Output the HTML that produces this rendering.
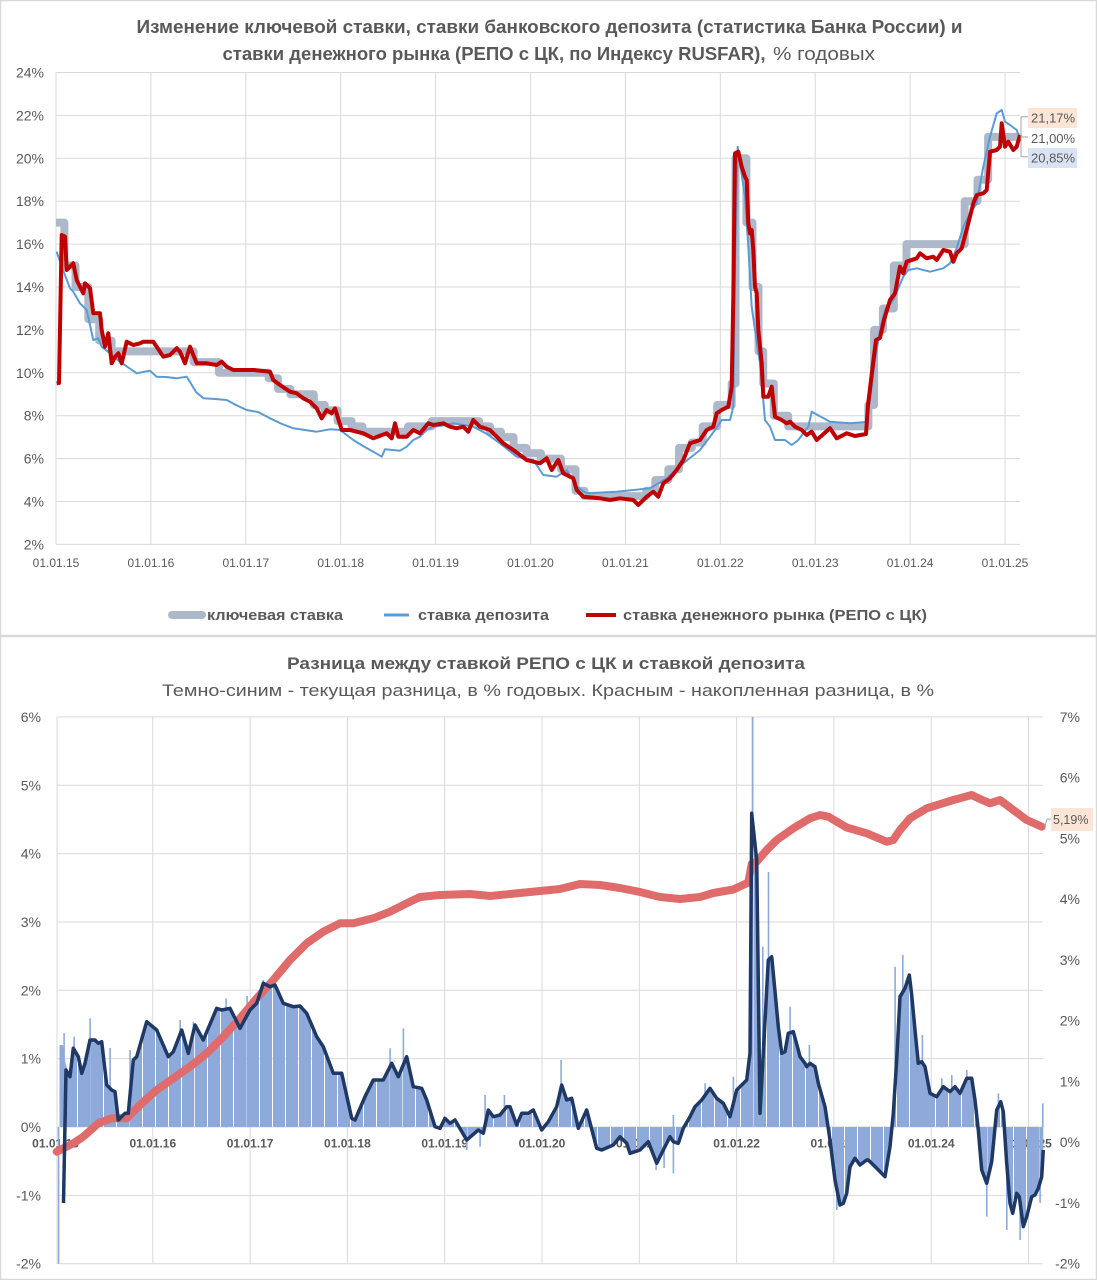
<!DOCTYPE html>
<html><head><meta charset="utf-8"><style>
html,body{margin:0;padding:0;background:#fff;}
svg{display:block;}
text{font-family:"Liberation Sans",Arial,sans-serif;fill:#595959;}
</style></head><body>
<svg width="1097" height="1280" viewBox="0 0 1097 1280" xmlns="http://www.w3.org/2000/svg">
<defs>
<pattern id="bp" patternUnits="userSpaceOnUse" width="13" height="20"><rect x="0" y="0" width="12" height="20" fill="#8eaadb"/></pattern>
</defs>
<rect x="0" y="0" width="1097" height="1280" fill="#fff"/>
<rect x="0.5" y="0.5" width="1096" height="635" fill="none" stroke="#d9d9d9" stroke-width="1.5"/>
<rect x="0.5" y="636.5" width="1096" height="643" fill="none" stroke="#d9d9d9" stroke-width="1.5"/>

<!-- ===== TOP CHART ===== -->
<text x="136.5" y="33" font-size="18" font-weight="bold" textLength="826" lengthAdjust="spacingAndGlyphs">Изменение ключевой ставки, ставки банковского депозита (статистика Банка России) и</text>
<text x="222.5" y="60" font-size="18" font-weight="bold" textLength="543" lengthAdjust="spacingAndGlyphs">ставки денежного рынка (РЕПО с ЦК, по Индексу RUSFAR),</text>
<text x="773" y="60" font-size="18" textLength="102" lengthAdjust="spacingAndGlyphs">% годовых</text>

<g stroke="#d9d9d9" stroke-width="1">
<line x1="56" y1="72.5" x2="1020" y2="72.5"/><line x1="56" y1="115.4" x2="1020" y2="115.4"/>
<line x1="56" y1="158.3" x2="1020" y2="158.3"/><line x1="56" y1="201.2" x2="1020" y2="201.2"/>
<line x1="56" y1="244.1" x2="1020" y2="244.1"/><line x1="56" y1="287" x2="1020" y2="287"/>
<line x1="56" y1="329.9" x2="1020" y2="329.9"/><line x1="56" y1="372.8" x2="1020" y2="372.8"/>
<line x1="56" y1="415.7" x2="1020" y2="415.7"/><line x1="56" y1="458.6" x2="1020" y2="458.6"/>
<line x1="56" y1="501.5" x2="1020" y2="501.5"/><line x1="56" y1="544.4" x2="1020" y2="544.4"/>
<line x1="56" y1="72.5" x2="56" y2="544.4"/><line x1="150.9" y1="72.5" x2="150.9" y2="544.4"/>
<line x1="245.8" y1="72.5" x2="245.8" y2="544.4"/><line x1="340.7" y1="72.5" x2="340.7" y2="544.4"/>
<line x1="435.6" y1="72.5" x2="435.6" y2="544.4"/><line x1="530.5" y1="72.5" x2="530.5" y2="544.4"/>
<line x1="625.4" y1="72.5" x2="625.4" y2="544.4"/><line x1="720.3" y1="72.5" x2="720.3" y2="544.4"/>
<line x1="815.2" y1="72.5" x2="815.2" y2="544.4"/><line x1="910.1" y1="72.5" x2="910.1" y2="544.4"/>
<line x1="1005" y1="72.5" x2="1005" y2="544.4"/>
</g>
<g font-size="14" text-anchor="end">
<text x="44" y="77.5">24%</text><text x="44" y="120.4">22%</text><text x="44" y="163.3">20%</text>
<text x="44" y="206.2">18%</text><text x="44" y="249.1">16%</text><text x="44" y="292">14%</text>
<text x="44" y="334.9">12%</text><text x="44" y="377.8">10%</text><text x="44" y="420.7">8%</text>
<text x="44" y="463.6">6%</text><text x="44" y="506.5">4%</text><text x="44" y="549.4">2%</text>
</g>
<g font-size="12" text-anchor="middle">
<text x="56" y="567">01.01.15</text><text x="150.9" y="567">01.01.16</text><text x="245.8" y="567">01.01.17</text>
<text x="340.7" y="567">01.01.18</text><text x="435.6" y="567">01.01.19</text><text x="530.5" y="567">01.01.20</text>
<text x="625.4" y="567">01.01.21</text><text x="720.3" y="567">01.01.22</text><text x="815.2" y="567">01.01.23</text>
<text x="910.1" y="567">01.01.24</text><text x="1005" y="567">01.01.25</text>
</g>

<path fill="none" stroke="#adb9ca" stroke-width="8" stroke-linejoin="round" d="M56,222.65 H64.4 V265.55 H75.5 V287 H88.3 V319.2 H99.2 V340.6 H111.6 V351.35 H193.6 V362.1 H218.9 V372.8 H268.6 V378.2 H277.9 V388.9 H290.4 V394.25 H313.8 V405 H324.8 V410.35 H337.6 V421.1 H351.6 V426.4 H362.5 V431.8 H408.1 V426.4 H431.8 V421.1 H479.1 V426.4 H490.1 V431.8 H501 V437.15 H513.6 V447.9 H526.4 V453.2 H541 V458.6 H561 V469.3 H575.5 V490.8 H584.5 V496.1 H646.3 V490.8 H655.3 V480.05 H668.3 V469.3 H679 V447.9 H691.8 V442.5 H702.7 V426.4 H717.2 V405 H731.7 V383.5 H735.5 V158.3 H746.4 V222.65 H752.5 V287 H758.5 V351.35 H763.2 V383.5 H773.8 V415.7 H788.2 V426.4 H868.4 V405 H874.1 V329.9 H882.9 V308.45 H893.8 V265.55 H906.5 V244.1 H964.7 V201.2 H977.5 V179.75 H988.1 V136.85 H1020"/>

<polyline fill="none" stroke="#5b9bd5" stroke-width="2" stroke-linejoin="round" points="56.7,251.7 63,270 70,288.3 73.3,291.7 80,303.3 86.7,310 90,325 93.3,340 98.3,338.3 101.7,346.7 110,353.3 120,361.7 136.7,373.3 143,372 150,370.7 156.7,376.7 166,377 176.7,378.3 186.7,376.7 190,382 196,392 203.3,398.3 215,399 226.7,400 236,405 246.7,410 258,412 270,418.3 282,424 293.3,428.3 305,430 316.7,431.7 330,429.3 340,430 353.3,440 363,446 373.3,451.7 381.7,456.7 385,449.3 400,450.7 406.7,446.7 413.3,440 420,436.7 426.7,430 433.3,426.7 440,426 453.3,423.3 473.3,426.7 487,434 500,443.3 516.7,456.7 533.3,460 543.3,475 556.7,476.7 566.7,470 576.7,486.7 586.7,493.3 616.7,491.7 633.3,490 650,488.3 666.7,478.3 683.3,463.3 700,450 715,430 721.7,420 730,420 733.3,406.7 735,263.3 737.7,146.7 740,163.3 745,196.7 748.3,246.7 751.7,306.7 755,330 760,363.3 765,420 770,426.7 775,440 785,440 791.7,445 798.3,440 808.3,426.7 811.7,411.7 830,421.7 850,423.3 866,422 870,400 875,360 880,330 885,310 893.3,300 903.3,276.7 908.3,270 916.7,268.3 930,271.7 943.3,268.3 950,263.3 956.7,248.3 963.3,226.7 970,213.3 976.7,203.3 983.3,166.7 990,136.7 996.7,113.3 1001.7,110 1005,121.7 1010,125 1016.7,130 1020,140"/>

<polyline fill="none" stroke="#c00000" stroke-width="4" stroke-linejoin="round" points="56.7,383.3 59,383 61.7,235 65,236.7 66.7,270 70,266.7 73.3,263.3 76.7,280 80,286.7 83.3,293.3 85,283.3 90,288.3 93.3,313.3 100,313.3 101.7,330 105,346.7 108.3,333.3 111.7,363.3 115,357 118.3,353.3 121.7,363.3 126.7,341.7 133.3,345 140,343.3 143.3,341.7 153.3,341.7 156.7,346.7 163.3,356.7 170,355 176.7,348.3 180,351.7 185,363.3 190,346.7 196.7,363.3 206.7,363.3 216.7,365 221.7,361.7 226.7,366.7 233.3,370 253.3,370 270,371.7 273.3,380 280,385 290,391.7 296.7,393.3 303.3,398.3 310,401.7 316.7,408.3 321.7,418.3 326.7,410 331.7,413.3 335,408.3 341.7,430 350,430 363.3,433.3 373.3,438.3 386.7,433.3 391.7,438.3 395,423.3 398.3,436.7 406.7,436.7 413.3,430 420,433.3 428.3,423.3 433.3,425 443.3,423.3 450,426.7 456.7,428.3 463.3,426.7 468.3,431.7 473.3,420 480,426.7 490,430 496.7,436.7 503.3,443.3 513.3,450 526.7,460 540,463.3 546.7,458.3 551.7,470 558.3,460 563.3,473.3 573.3,478.3 576.7,490 583.3,496.7 600,498.3 610,500 620,498.3 633.3,500 638.3,505 646.7,496.7 653.3,491.7 658.3,496.7 663.3,483.3 670,478.3 676.7,470 683.3,460 690,443.3 700,440 706.7,430 713.3,426.7 716.7,413.3 721.7,410 728.3,406.7 731.7,386.7 733.3,296.7 735,153.3 738.3,151.7 741.7,166.7 745,176.7 746.7,180 748.3,223.3 750,233.3 751.7,230 753.3,250 755,286.7 756.7,293.3 758.3,330 761.7,363.3 763.3,396.7 768.3,396.7 771.7,386.7 775,416.7 781.7,420 786.7,423.3 790,421.7 795,426.7 801.7,430 806.7,435 811.7,431.7 816.7,440 830,428.3 836.7,438.3 846.7,433.3 855,436 866,434 868,405 872,372 876,340 880,338 884,320 890,300 895,293.3 900,266.7 903.3,273.3 906.7,261.7 916.7,258.3 920,253.3 926.7,258.3 933.3,256.7 936.7,260 943.3,250 950,251.7 953.3,261.7 956.7,253.3 961.7,248.3 968.3,223.3 973.3,203.3 976.7,195 983.3,193.3 986.7,190 990,151.7 996.7,150 1000,146.7 1001.7,123.3 1005,146.7 1008.3,141.7 1013.3,150 1016.7,146.7 1020,135"/>

<!-- end labels -->
<polyline fill="none" stroke="#a6a6a6" stroke-width="1" points="1028,116.7 1021,116.7 1021,156.7 1028,156.7"/>
<line x1="1021" y1="137" x2="1028" y2="137" stroke="#a6a6a6" stroke-width="1"/>
<rect x="1028" y="108" width="49" height="20" fill="#fbe5d6"/>
<text x="1031" y="122.5" font-size="13">21,17%</text>
<text x="1031" y="143" font-size="13">21,00%</text>
<rect x="1028" y="148" width="49" height="20" fill="#dae3f3"/>
<text x="1031" y="162.5" font-size="13">20,85%</text>

<!-- legend -->
<line x1="172" y1="615" x2="202" y2="615" stroke="#adb9ca" stroke-width="8" stroke-linecap="round"/>
<text x="207" y="620" font-size="15" font-weight="bold" textLength="136" lengthAdjust="spacingAndGlyphs">ключевая ставка</text>
<line x1="384" y1="615" x2="409" y2="615" stroke="#5b9bd5" stroke-width="3"/>
<text x="418" y="620" font-size="15" font-weight="bold" textLength="131" lengthAdjust="spacingAndGlyphs">ставка депозита</text>
<line x1="586" y1="615" x2="616" y2="615" stroke="#c00000" stroke-width="4"/>
<text x="623" y="620" font-size="15" font-weight="bold" textLength="304" lengthAdjust="spacingAndGlyphs">ставка денежного рынка (РЕПО с ЦК)</text>

<!-- ===== BOTTOM CHART ===== -->
<text x="287" y="669" font-size="17" font-weight="bold" textLength="518" lengthAdjust="spacingAndGlyphs">Разница между ставкой РЕПО с ЦК и ставкой депозита</text>
<text x="162" y="696" font-size="17" textLength="772" lengthAdjust="spacingAndGlyphs">Темно-синим - текущая разница, в % годовых. Красным - накопленная разница, в %</text>

<g stroke="#d9d9d9" stroke-width="1">
<line x1="57" y1="716.9" x2="1043" y2="716.9"/><line x1="57" y1="785.25" x2="1043" y2="785.25"/>
<line x1="57" y1="853.6" x2="1043" y2="853.6"/><line x1="57" y1="921.95" x2="1043" y2="921.95"/>
<line x1="57" y1="990.3" x2="1043" y2="990.3"/><line x1="57" y1="1058.65" x2="1043" y2="1058.65"/>
<line x1="57" y1="1127" x2="1043" y2="1127"/><line x1="57" y1="1195.35" x2="1043" y2="1195.35"/>
<line x1="57" y1="1263.7" x2="1043" y2="1263.7"/>
<line x1="57" y1="716.9" x2="57" y2="1263.7"/><line x1="152.8" y1="716.9" x2="152.8" y2="1263.7"/>
<line x1="250.1" y1="716.9" x2="250.1" y2="1263.7"/><line x1="347.4" y1="716.9" x2="347.4" y2="1263.7"/>
<line x1="444.7" y1="716.9" x2="444.7" y2="1263.7"/><line x1="542" y1="716.9" x2="542" y2="1263.7"/>
<line x1="639.3" y1="716.9" x2="639.3" y2="1263.7"/><line x1="736.6" y1="716.9" x2="736.6" y2="1263.7"/>
<line x1="833.9" y1="716.9" x2="833.9" y2="1263.7"/><line x1="931.2" y1="716.9" x2="931.2" y2="1263.7"/>
<line x1="1028.5" y1="716.9" x2="1028.5" y2="1263.7"/>
</g>
<g font-size="14" text-anchor="end">
<text x="41" y="721.9">6%</text><text x="41" y="790.25">5%</text><text x="41" y="858.6">4%</text>
<text x="41" y="926.95">3%</text><text x="41" y="995.3">2%</text><text x="41" y="1063.65">1%</text>
<text x="41" y="1132">0%</text><text x="41" y="1200.35">-1%</text><text x="41" y="1268.7">-2%</text>
<text x="1080" y="721.9">7%</text><text x="1080" y="782.65">6%</text><text x="1080" y="843.4">5%</text>
<text x="1080" y="904.15">4%</text><text x="1080" y="964.9">3%</text><text x="1080" y="1025.65">2%</text>
<text x="1080" y="1086.4">1%</text><text x="1080" y="1147.15">0%</text><text x="1080" y="1207.9">-1%</text>
<text x="1080" y="1268.65">-2%</text>
</g>
<g font-size="12" font-weight="bold" text-anchor="middle">
<text x="55.5" y="1147.5">01.01.15</text><text x="152.8" y="1147.5">01.01.16</text><text x="250.1" y="1147.5">01.01.17</text>
<text x="347.4" y="1147.5">01.01.18</text><text x="444.7" y="1147.5">01.01.19</text><text x="542" y="1147.5">01.01.20</text>
<text x="639.3" y="1147.5">01.01.21</text><text x="736.6" y="1147.5">01.01.22</text><text x="833.9" y="1147.5">01.01.23</text>
<text x="931.2" y="1147.5">01.01.24</text><text x="1028.5" y="1147.5">01.01.25</text>
</g>

<!-- bars -->
<polygon fill="url(#bp)" points="57,1127 59.5,1127 59.5,1045 63,1045 66,1065 70,1076.7 73.3,1048.3 78.3,1056.7 81.7,1073.3 85,1063.3 90,1040 95,1040 98.3,1043.3 101.7,1041.7 106.7,1085 111.7,1090 115,1091.7 118.3,1120 125,1113.3 128.3,1113.3 133.3,1060 136.7,1056.7 146.7,1021.7 156.7,1030 168.3,1056.7 173.3,1051.7 181.7,1030 188.3,1053.3 195,1025 203.3,1040 216.7,1008.3 221.7,1010 230,1008.3 240,1028.3 250,1010 256.7,1003.3 263.3,983.3 270,986.7 275,985 283.3,1003.3 293.3,1006.7 300,1006 306.7,1013.3 316.7,1036.7 323.3,1046.7 333.3,1073.3 341.7,1073.3 351.7,1118.3 355,1120 365,1096.7 373.3,1080 383.3,1080 391.7,1063.3 398.3,1076.7 406.7,1056.7 413.3,1086.7 421.7,1088.3 426.7,1100 435,1126.7 440,1128.3 445,1118.3 450,1123.3 455,1120 466.7,1140 478.3,1130 483.3,1133.3 488.3,1110 493.3,1116.7 500,1115 506.7,1106.7 510,1106.7 516.7,1125 521.7,1113.3 528.3,1113.3 533.3,1110 541.7,1130 548.3,1121.7 556.7,1106.7 561.7,1085 566.7,1100 571.7,1098.3 578.3,1128.3 586.7,1110 596.7,1148.3 601.7,1150 613.3,1145 620,1136.7 626.7,1143.3 630,1153.3 640,1150 648.3,1141.7 656.7,1163.3 663.3,1150 670,1136.7 673.3,1141.7 678.3,1143.3 683.3,1128.3 690,1116.7 695,1106.7 701.7,1100 710,1088.3 716.7,1098.3 723.3,1103.3 730,1116.7 736.7,1090 740,1086.7 746.7,1080 748.3,1066.7 750,1053.3 751.7,813.3 756.7,860 760,1113.3 763.3,1053.3 768.3,960 771.7,956.7 773.3,973.3 778.3,1026.7 781.7,1053.3 785,1051.7 788.3,1033.3 793.3,1031.7 798.3,1050 800,1056.7 805,1063.3 806.7,1066.7 810,1063.3 815,1066.7 818.3,1083.3 825,1106.7 830,1140 835,1180 840,1205 843.3,1203.3 846.7,1193.3 850,1166.7 855,1158.3 860,1165 866.7,1160 868.3,1160 876.7,1168.3 885,1176.7 890,1146.7 893.3,1113.3 896.7,1060 900,996.7 905,988.3 909.3,975 911.7,995 915,1030 918.3,1063.3 921.7,1061.7 925,1066.7 930,1093.3 936.7,1096.7 943.3,1086.7 950,1091.7 955,1086.7 960,1093.3 966.7,1078.3 971.7,1078.3 975,1100 978.3,1130 981.7,1170 986.7,1183.3 991.7,1161.7 996.7,1110 1000.7,1101.7 1003.3,1111.7 1006.7,1163.3 1010,1203.3 1012.7,1213.3 1016.7,1193.3 1019.3,1196.7 1023.3,1226.7 1026.7,1216.7 1031.7,1196.7 1035,1195 1038.3,1188.3 1041.7,1176.7 1043.3,1150 1043.3,1127"/>
<g fill="#8eaadb">
<rect x="63.3" y="1033" width="1.6" height="94"/><rect x="73.3" y="1036.7" width="1.6" height="90"/>
<rect x="89.3" y="1018.3" width="1.6" height="109"/><rect x="109.3" y="1048" width="1.6" height="79"/>
<rect x="129.3" y="1050" width="1.6" height="77"/><rect x="146" y="1020" width="1.6" height="107"/>
<rect x="179.3" y="1020" width="1.6" height="107"/><rect x="192.6" y="1021.7" width="1.6" height="105"/>
<rect x="225.3" y="998.3" width="1.6" height="129"/><rect x="246.3" y="996" width="1.6" height="131"/>
<rect x="262.6" y="980" width="1.6" height="147"/><rect x="389.3" y="1048.3" width="1.6" height="79"/>
<rect x="402.6" y="1028.3" width="1.6" height="99"/><rect x="484.3" y="1095" width="1.6" height="32"/>
<rect x="503.6" y="1095" width="1.6" height="32"/><rect x="560.3" y="1060" width="1.6" height="67"/>
<rect x="672.6" y="1115" width="1.6" height="12"/><rect x="732.6" y="1076.7" width="1.6" height="50"/>
<rect x="704.3" y="1083.3" width="1.6" height="44"/><rect x="751.7" y="716.9" width="1.8" height="410"/>
<rect x="762" y="946.7" width="1.6" height="180"/><rect x="767.7" y="872" width="1.6" height="255"/>
<rect x="789.3" y="1006.7" width="1.6" height="120"/><rect x="808.6" y="1045" width="1.6" height="82"/>
<rect x="894.3" y="966.7" width="1.6" height="160"/><rect x="902" y="955" width="1.6" height="172"/>
<rect x="921.6" y="1035" width="1.6" height="92"/><rect x="941" y="1078.3" width="1.6" height="49"/>
<rect x="951" y="1075" width="1.6" height="52"/><rect x="966" y="1070" width="1.6" height="57"/>
<rect x="997.6" y="1093.3" width="1.6" height="34"/><rect x="1042" y="1103.3" width="1.6" height="24"/>
<rect x="57.8" y="1127" width="1.6" height="136.6"/><rect x="466" y="1127" width="1.6" height="23"/>
<rect x="479.3" y="1127" width="1.6" height="19.7"/><rect x="655.3" y="1127" width="1.6" height="43"/>
<rect x="663.3" y="1127" width="1.6" height="41"/><rect x="672.6" y="1127" width="1.6" height="46.3"/>
<rect x="836" y="1127" width="1.6" height="83"/><rect x="986" y="1127" width="1.6" height="89.7"/>
<rect x="1006" y="1127" width="1.6" height="103"/><rect x="1019.3" y="1127" width="1.6" height="113"/>
<rect x="1039.3" y="1127" width="1.6" height="76"/>
</g>

<!-- cumulative red -->
<polyline fill="none" stroke="#e06b6b" stroke-width="8" stroke-linejoin="round" stroke-linecap="round" points="56.7,1151.7 73.3,1143.3 83.3,1136.7 98.3,1123.3 111.7,1118.3 126.7,1118.3 140,1105 156.7,1090 173.3,1078.3 190,1066.7 206.7,1053.3 223.3,1036.7 240,1018.3 256.7,998.3 273.3,980 290,960 306.7,943.3 323.3,931.7 340,923.3 353.3,923.3 373.3,918.3 390,911.7 406.7,903.3 420,897 440,895 470,894 490,896 520,893 540,891 560,889 580,884 600,885 620,888 640,892 660,897 680,899 700,897 713.3,893 733.3,889.5 748.3,882.5 751.7,864 756.7,861.7 766.7,850 776.7,840 793.3,828.3 810,818.3 820,815 828.3,816.7 846.7,827.5 866.7,833.3 886.7,841.7 893.3,840 900,830 910,818.3 926.7,808.3 953.3,800 971.7,795 980,799 990,803.3 1000,800 1013.3,810 1026.7,820 1041.7,826.7"/>

<!-- navy -->
<polyline fill="none" stroke="#1f3864" stroke-width="3.5" stroke-linejoin="round" points="63.5,1203 66,1070 70,1076.7 73.3,1048.3 78.3,1056.7 81.7,1073.3 85,1063.3 90,1040 95,1040 98.3,1043.3 101.7,1041.7 106.7,1085 111.7,1090 115,1091.7 118.3,1120 125,1113.3 128.3,1113.3 133.3,1060 136.7,1056.7 146.7,1021.7 156.7,1030 168.3,1056.7 173.3,1051.7 181.7,1030 188.3,1053.3 195,1025 203.3,1040 216.7,1008.3 221.7,1010 230,1008.3 240,1028.3 250,1010 256.7,1003.3 263.3,983.3 270,986.7 275,985 283.3,1003.3 293.3,1006.7 300,1006 306.7,1013.3 316.7,1036.7 323.3,1046.7 333.3,1073.3 341.7,1073.3 351.7,1118.3 355,1120 365,1096.7 373.3,1080 383.3,1080 391.7,1063.3 398.3,1076.7 406.7,1056.7 413.3,1086.7 421.7,1088.3 426.7,1100 435,1126.7 440,1128.3 445,1118.3 450,1123.3 455,1120 466.7,1140 478.3,1130 483.3,1133.3 488.3,1110 493.3,1116.7 500,1115 506.7,1106.7 510,1106.7 516.7,1125 521.7,1113.3 528.3,1113.3 533.3,1110 541.7,1130 548.3,1121.7 556.7,1106.7 561.7,1085 566.7,1100 571.7,1098.3 578.3,1128.3 586.7,1110 596.7,1148.3 601.7,1150 613.3,1145 620,1136.7 626.7,1143.3 630,1153.3 640,1150 648.3,1141.7 656.7,1163.3 663.3,1150 670,1136.7 673.3,1141.7 678.3,1143.3 683.3,1128.3 690,1116.7 695,1106.7 701.7,1100 710,1088.3 716.7,1098.3 723.3,1103.3 730,1116.7 736.7,1090 740,1086.7 746.7,1080 748.3,1066.7 750,1053.3 751.7,813.3 756.7,860 760,1113.3 763.3,1053.3 768.3,960 771.7,956.7 773.3,973.3 778.3,1026.7 781.7,1053.3 785,1051.7 788.3,1033.3 793.3,1031.7 798.3,1050 800,1056.7 805,1063.3 806.7,1066.7 810,1063.3 815,1066.7 818.3,1083.3 825,1106.7 830,1140 835,1180 840,1205 843.3,1203.3 846.7,1193.3 850,1166.7 855,1158.3 860,1165 866.7,1160 868.3,1160 876.7,1168.3 885,1176.7 890,1146.7 893.3,1113.3 896.7,1060 900,996.7 905,988.3 909.3,975 911.7,995 915,1030 918.3,1063.3 921.7,1061.7 925,1066.7 930,1093.3 936.7,1096.7 943.3,1086.7 950,1091.7 955,1086.7 960,1093.3 966.7,1078.3 971.7,1078.3 975,1100 978.3,1130 981.7,1170 986.7,1183.3 991.7,1161.7 996.7,1110 1000.7,1101.7 1003.3,1111.7 1006.7,1163.3 1010,1203.3 1012.7,1213.3 1016.7,1193.3 1019.3,1196.7 1023.3,1226.7 1026.7,1216.7 1031.7,1196.7 1035,1195 1038.3,1188.3 1041.7,1176.7 1043.3,1150"/>

<!-- 5,19% label -->
<polyline fill="none" stroke="#a6a6a6" stroke-width="1" points="1045,826 1047,819 1051,819"/>
<rect x="1051" y="808" width="42" height="23" fill="#fbe5d6"/>
<text x="1053" y="824" font-size="12.5">5,19%</text>
</svg>
</body></html>
